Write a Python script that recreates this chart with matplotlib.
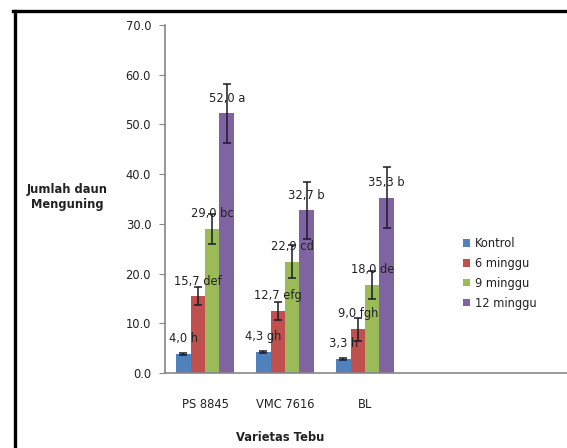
import numpy as np
import matplotlib.pyplot as plt
from matplotlib.lines import Line2D

# data
varietas = ['PS 8845', 'VMC 7616', 'BL']
perlakuan = ['Kontrol', '6 minggu', '9 minggu', '12 minggu']
kontrol = [3.8, 4.3, 2.9]
minggu6 = [15.4, 12.5, 8.8]
minggu9 = [29.0, 22.4, 17.7]
minggu12 = [52.2, 32.7, 35.3]
err_kontrol = [0.2, 0.2, 0.2]
err_6 = [1.8, 1.8, 2.3]
err_9 = [3.0, 3.3, 2.8]
err_12 = [6.0, 5.8, 6.1]
lbl_kontrol = ['4,0 h', '4,3 gh', '3,3 h']
lbl_6 = ['15,7 def', '12,7 efg', '9,0 fgh']
lbl_9 = ['29,0 bc', '22,9 cd', '18,0 de']
lbl_12 = ['52,0 a', '32,7 b', '35,3 b']

colors = ['#4F81BD', '#C0504D', '#9BBB59', '#8064A2']
series = [kontrol, minggu6, minggu9, minggu12]
errs = [err_kontrol, err_6, err_9, err_12]
labels = [lbl_kontrol, lbl_6, lbl_9, lbl_12]

plt.rcParams['font.family'] = ['DejaVu Sans']
fs = 8.3

fig = plt.figure(figsize=(5.67, 4.48), dpi=100)
ax = fig.add_axes([165/567, 1-373/448, 1-165/567, (373-25)/448])

x = np.arange(len(varietas))
w = 0.181
for i, (vals, e, lb) in enumerate(zip(series, errs, labels)):
    pos = x + (i - 1.5) * w
    ax.bar(pos, vals, w, color=colors[i], label=perlakuan[i], zorder=2)
    ax.errorbar(pos, vals, yerr=e, fmt='none', ecolor='#1a1a2a', elinewidth=1.1,
                capsize=3, capthick=1.1, zorder=3)
    for px, v, t in zip(pos, vals, lb):
        ax.annotate(t, (px, v), xytext=(0, 11), textcoords='offset points',
                    ha='center', va='center', fontsize=fs, color='#222222', zorder=4)

ax.set_xlim(-0.5, 4.525)
ax.set_ylim(0, 70)
ax.set_yticks(np.arange(0, 71, 10))
ax.set_yticklabels(['%.1f' % v for v in np.arange(0, 71, 10)], fontsize=fs, color='#222222')
ax.set_xticks(x)
ax.set_xticklabels(varietas, fontsize=fs, color='#222222')
ax.tick_params(axis='x', length=0, pad=18)
ax.tick_params(axis='y', length=4, color='#868686', pad=6)
for s in ['top', 'right']:
    ax.spines[s].set_visible(False)
for s in ['left', 'bottom']:
    ax.spines[s].set_color('#868686')
    ax.spines[s].set_linewidth(1.2)

fig.text(67/567, 1-197/448, 'Jumlah daun\nMenguning', ha='center', va='center',
         fontsize=fs, fontweight='bold', linespacing=1.25, color='#222222')
fig.text(280/567, 1-437/448, 'Varietas Tebu', ha='center', va='center',
         fontsize=fs, fontweight='bold', color='#222222')

leg = fig.legend(loc='upper left', bbox_to_anchor=(463/567, 1-237/448), frameon=False,
                 fontsize=fs, handlelength=0.6, handleheight=0.6, handletextpad=0.4,
                 labelspacing=0.6, borderaxespad=0, borderpad=0)
for t in leg.get_texts():
    t.set_color('#222222')

# black frame (left and top edges)
fig.add_artist(Line2D([14.5/567, 14.5/567], [0, 1-11/448], color='black', lw=2.4,
                      transform=fig.transFigure))
fig.add_artist(Line2D([13.3/567, 1], [1-11/448, 1-11/448], color='black', lw=2.4,
                      transform=fig.transFigure))

fig.savefig('out.png', dpi=100)
